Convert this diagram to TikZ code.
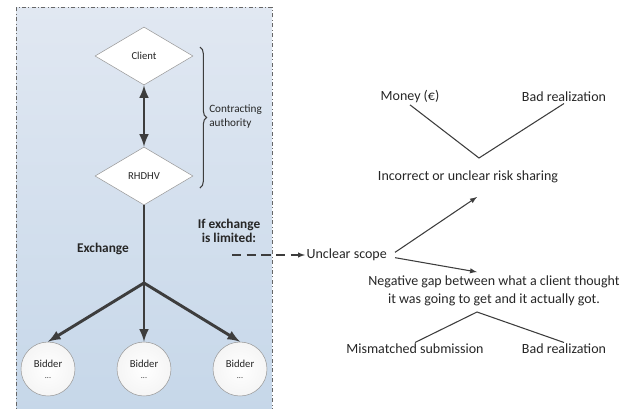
\documentclass[tikz,border=0pt]{standalone}
\usepackage{fontspec}
\setmainfont{Carlito}
\usepackage{tikz}
\usetikzlibrary{shapes.geometric, decorations.pathreplacing}

\definecolor{panelTop}{HTML}{E1E8F2}
\definecolor{panelBottom}{HTML}{C6D7E9}
\definecolor{lineDark}{HTML}{3D3D3D}
\definecolor{shapeEdge}{HTML}{9A9A9A}
\definecolor{textDark}{HTML}{262626}

\tikzset{
	party/.style = {diamond, draw = shapeEdge, fill = white, inner sep = 0pt, minimum width = 73.5pt, minimum height = 43.5pt, font = \fontsize{8}{9}\selectfont, text = textDark},
	bidder/.style = {circle, draw = shapeEdge, inner color = white, outer color = gray!8, minimum size = 40.5pt, inner sep = 0pt, align = center, font = \fontsize{8}{10}\selectfont, text = textDark},
	flow/.style = {line width = 2.2pt, draw = lineDark},
	cause/.style = {font = \fontsize{10.5}{13.5}\selectfont, text = textDark, inner sep = 1pt},
	tag/.style = {font = \bfseries\fontsize{10}{11}\selectfont, text = textDark},
	link/.style = {draw = lineDark, line width = 0.8pt}
}

\begin{document}
\begin{tikzpicture}[x = 0.75pt, y = -0.75pt]
	\useasboundingbox (0, 0) rectangle (626, 408);
	\draw[draw = gray!80!black, dash dot, top color = panelTop, bottom color = panelBottom] (16, 7) rectangle (272, 412);
	\node[party] (client) at (144, 56) {Client};
	\node[party] (rhdhv) at (144, 176) {RHDHV};
	\draw[flow, latex-latex] (client) -- (rhdhv);
	\draw[link, decorate, decoration = {brace, amplitude = 5pt}] (200, 47) -- (200, 188);
	\node[anchor = west, align = left, inner sep = 0pt, font = \fontsize{8.4}{10.5}\selectfont, text = textDark] (authority) at (209, 117) {Contracting\\authority};
	\coordinate (split) at (144, 283);
	\draw[flow] (rhdhv) -- (split);
	\node[bidder] (bidA) at (48, 369) {Bidder\\[-2pt]{\fontsize{6}{6}\selectfont ...}};
	\node[bidder] (bidB) at (144, 369) {Bidder\\[-2pt]{\fontsize{6}{6}\selectfont ...}};
	\node[bidder] (bidC) at (240, 369) {Bidder\\[-2pt]{\fontsize{6}{6}\selectfont ...}};
	\draw[flow, -latex] (split) -- (bidA.north);
	\draw[flow, -latex] (split) -- (bidB.north);
	\draw[flow, -latex] (split) -- (bidC.north);
	\node[tag] (exchange) at (103, 249) {Exchange};
	\node[tag, align = center] (limited) at (229, 231) {If exchange\\is limited:};
	\coordinate (dashStart) at (232, 255);
	\node[cause, anchor = west] (scope) at (305, 255) {Unclear scope};
	\draw[link, dash pattern = on 7pt off 4pt, -latex] (dashStart) -- (scope.west);
	\node[cause] (risk) at (468, 177) {Incorrect or unclear risk sharing};
	\node[cause] (money) at (410, 97) {Money (€)};
	\node[cause] (badTop) at (564, 97) {Bad realization};
	\coordinate (riskApex) at (479, 158);
	\draw[link] (money.south) -- (riskApex) -- (badTop.south);
	\coordinate (riskTip) at (477, 197);
	\coordinate (gapTip) at (477, 272);
	\draw[link, -latex] ([xshift = 5pt, yshift = 2pt]scope.east) -- (riskTip);
	\draw[link, -latex] ([xshift = 5pt, yshift = -2pt]scope.east) -- (gapTip);
	\node[cause, align = center] (gap) at (494, 291) {Negative gap between what a client thought\\it was going to get and it actually got.};
	\coordinate (gapApex) at (477, 312);
	\node[cause] (mismatch) at (415, 349) {Mismatched submission};
	\node[cause] (badBottom) at (564, 349) {Bad realization};
	\draw[link] (mismatch.north) -- (gapApex) -- (badBottom.north);
\end{tikzpicture}
\end{document}
